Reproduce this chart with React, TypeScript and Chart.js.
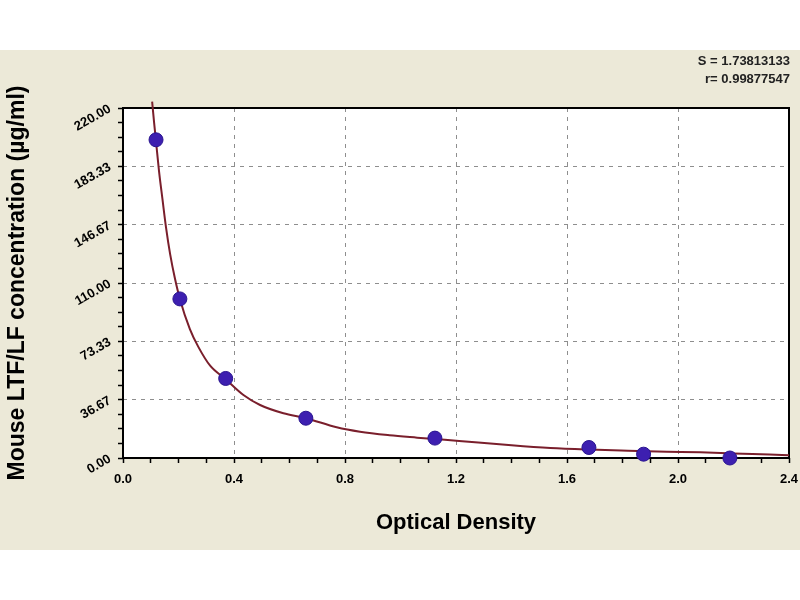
import React, { useEffect, useRef } from "react";
import { Chart, registerables } from "chart.js";

Chart.register(...registerables);

// ---- data ----
const X_TICK_LABELS = ["0.0", "0.4", "0.8", "1.2", "1.6", "2.0", "2.4"];
const X_MAX = 2.4;
const Y_TICK_LABELS = ["0.00", "36.67", "73.33", "110.00", "146.67", "183.33", "220.00"];
const Y_MAX = 220;
const MINOR_PER_MAJOR = 4;

// standard points (optical density, concentration)
const STD_OD = [0.119, 0.205, 0.37, 0.659, 1.124, 1.679, 1.876, 2.187];
const STD_CONC = [200, 100, 50, 25, 12.5, 6.6, 2.4, 0];

// fitted curve, read along its path
const CURVE_OD = [
  0.105, 0.112, 0.119, 0.13, 0.142, 0.155, 0.17, 0.187, 0.205, 0.241, 0.271, 0.314,
  0.37, 0.434, 0.494, 0.578, 0.659, 0.77, 0.854, 0.96, 1.06, 1.16, 1.28, 1.4,
  1.54, 1.68, 1.82, 1.96, 2.08, 2.2, 2.33, 2.4,
];
const CURVE_CONC = [
  224, 211, 199, 180, 163, 145, 128, 113, 100, 81, 70, 58, 49.5, 39.6, 33.3, 28.1, 25,
  19.3, 16.5, 14.3, 12.8, 11.4, 9.8, 8.0, 6.3, 5.3, 4.6, 4.0, 3.6, 2.9, 2.2, 1.8,
];

const FIT_S = "S = 1.73813133";
const FIT_R = "r= 0.99877547";
const X_TITLE = "Optical Density";
const Y_TITLE = "Mouse LTF/LF concentration (µg/ml)";

const FONT = "'Liberation Sans', Arial, sans-serif";

function buildTicks(max: number, majorCount: number) {
  const n = majorCount * MINOR_PER_MAJOR;
  const out: { value: number }[] = [];
  for (let i = 0; i <= n; i++) out.push({ value: (max * i) / n });
  return out;
}

function gridColor(total: number) {
  return (ctx: any) => {
    const i = ctx.index;
    return i % MINOR_PER_MAJOR === 0 && i !== 0 && i !== total ? "#8e8e8e" : "rgba(0,0,0,0)";
  };
}

const framePlugin = {
  id: "frame",
  beforeDraw(chart: any) {
    const { ctx, chartArea } = chart;
    const { left, top, right, bottom } = chartArea;
    ctx.save();
    ctx.fillStyle = "#ffffff";
    ctx.fillRect(left, top, right - left, bottom - top);
    ctx.restore();
  },
  beforeDatasetsDraw(chart: any) {
    const { ctx, chartArea } = chart;
    const { left, top, right, bottom } = chartArea;
    ctx.save();
    ctx.strokeStyle = "#000000";
    ctx.lineWidth = 2;
    ctx.setLineDash([]);
    ctx.strokeRect(left, top, right - left, bottom - top);
    ctx.restore();
  },
};

export default function App() {
  const canvasRef = useRef<HTMLCanvasElement | null>(null);

  useEffect(() => {
    if (!canvasRef.current) return;
    const xMajor = X_TICK_LABELS.length - 1;
    const yMajor = Y_TICK_LABELS.length - 1;
    const xTotal = xMajor * MINOR_PER_MAJOR;
    const yTotal = yMajor * MINOR_PER_MAJOR;

    const chart = new Chart(canvasRef.current, {
      type: "scatter",
      data: {
        datasets: [
          {
            label: "standards",
            data: STD_OD.map((x, i) => ({ x, y: STD_CONC[i] })),
            pointRadius: 7,
            pointBackgroundColor: "#3d1fb0",
            pointBorderColor: "#2a1590",
            pointBorderWidth: 1,
            showLine: false,
            clip: false as any,
          },
          {
            label: "fit",
            data: CURVE_OD.map((x, i) => ({ x, y: CURVE_CONC[i] })),
            showLine: true,
            pointRadius: 0,
            borderColor: "#7a1f2c",
            borderWidth: 2,
            cubicInterpolationMode: "monotone",
            clip: false as any,
          },
        ],
      },
      options: {
        animation: false,
        responsive: false,
        devicePixelRatio: 1,
        layout: { padding: { top: 58, right: 11, left: 0, bottom: 10 } },
        plugins: {
          legend: { display: false },
          tooltip: { enabled: false },
        },
        scales: {
          x: {
            type: "linear",
            min: 0,
            max: X_MAX,
            afterBuildTicks: (scale: any) => {
              scale.ticks = buildTicks(X_MAX, xMajor);
            },
            afterFit: (scale: any) => {
              scale.height = 82;
              scale.paddingRight = 0;
              scale.paddingLeft = 0;
            },
            ticks: {
              autoSkip: false,
              maxRotation: 0,
              minRotation: 0,
              padding: 9,
              color: "#000",
              font: { family: FONT, size: 13, weight: "bold" },
              callback: (_v: any, index: number) =>
                index % MINOR_PER_MAJOR === 0 ? X_TICK_LABELS[index / MINOR_PER_MAJOR] : "",
            },
            grid: {
              color: gridColor(xTotal),
              lineWidth: 1,
              tickColor: "#000",
              tickLength: 5,
              tickWidth: 1.5,
            },
            border: { display: false, dash: [4, 5] },
            title: {
              display: true,
              text: X_TITLE,
              color: "#000",
              font: { family: FONT, size: 22, weight: "bold" },
              padding: { top: 4, bottom: 4 },
            },
          },
          y: {
            type: "linear",
            min: 0,
            max: Y_MAX,
            afterBuildTicks: (scale: any) => {
              scale.ticks = buildTicks(Y_MAX, yMajor);
            },
            afterFit: (scale: any) => {
              scale.width = 123;
            },
            ticks: {
              autoSkip: false,
              minRotation: 30,
              maxRotation: 30,
              padding: 8,
              color: "#000",
              font: { family: FONT, size: 13, weight: "bold" },
              callback: (_v: any, index: number) =>
                index % MINOR_PER_MAJOR === 0 ? Y_TICK_LABELS[index / MINOR_PER_MAJOR] : "",
            },
            grid: {
              color: gridColor(yTotal),
              lineWidth: 1,
              tickColor: "#000",
              tickLength: 5,
              tickWidth: 1.5,
            },
            border: { display: false, dash: [4, 5] },
            title: {
              display: true,
              text: Y_TITLE,
              color: "#000",
              font: { family: FONT, size: 23, weight: "bold" },
              padding: { top: 4, bottom: 4 },
            },
          },
        },
      } as any,
      plugins: [framePlugin],
    });
    return () => chart.destroy();
  }, []);

  return (
    <div
      style={{
        position: "absolute",
        left: 0,
        top: 0,
        width: 800,
        height: 600,
        background: "#ffffff",
        overflow: "hidden",
      }}
    >
      <div
        style={{
          position: "absolute",
          left: 0,
          top: 50,
          width: 800,
          height: 500,
          background: "#ECE9D8",
        }}
      >
        <canvas ref={canvasRef} width={800} height={500} style={{ width: 800, height: 500, display: "block" }} />
        <div
          style={{
            position: "absolute",
            right: 10,
            top: 2,
            textAlign: "right",
            fontFamily: FONT,
            fontWeight: "bold",
            fontSize: 13,
            lineHeight: "18px",
            color: "#222",
          }}
        >
          <div>{FIT_S}</div>
          <div>{FIT_R}</div>
        </div>
      </div>
    </div>
  );
}
